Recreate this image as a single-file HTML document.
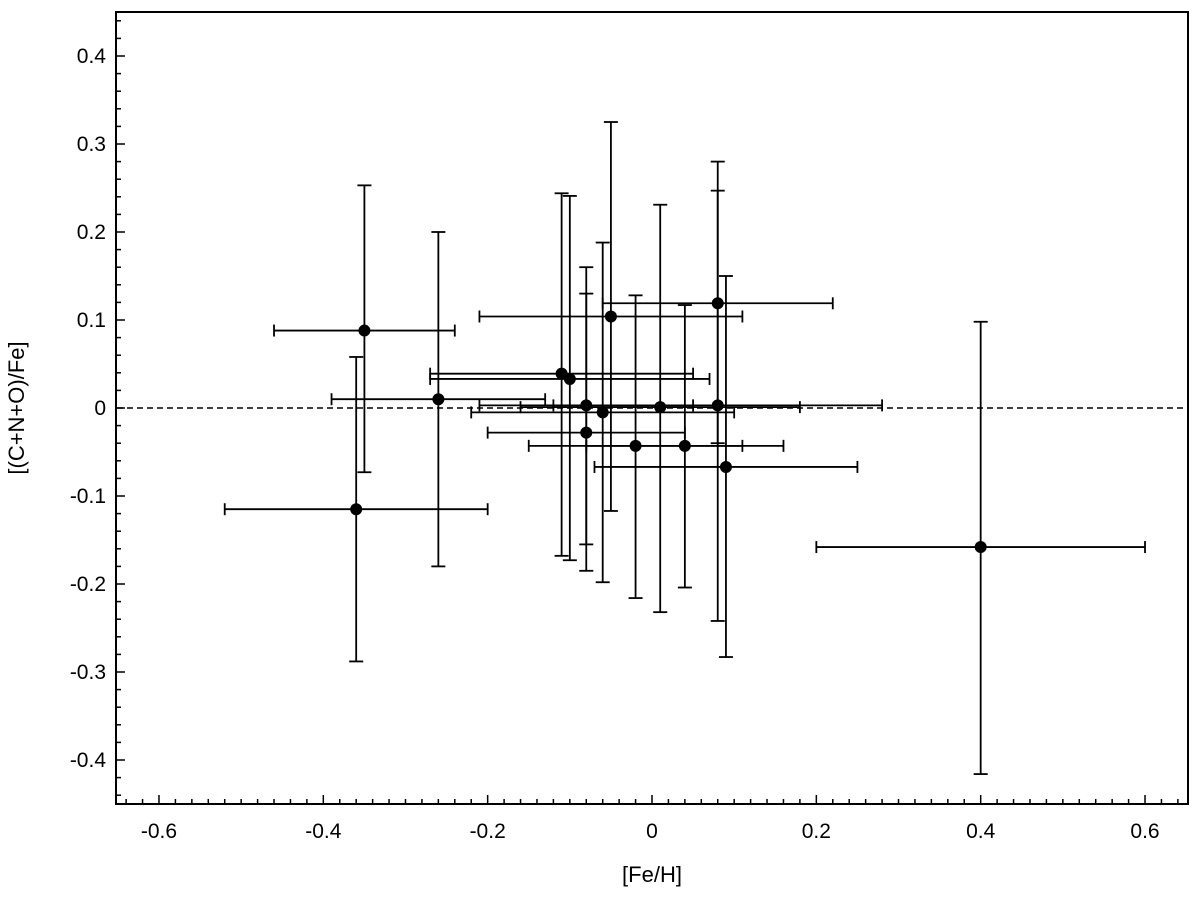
<!DOCTYPE html>
<html><head><meta charset="utf-8"><style>
body{margin:0;background:#fff;font-family:"Liberation Sans",sans-serif}
text{font-family:"Liberation Sans",sans-serif}
</style></head><body>
<svg id="chart" width="1200" height="895" xmlns="http://www.w3.org/2000/svg">
<rect x="116" y="12" width="1072" height="792" fill="none" stroke="#000" stroke-width="2"/>
<g id="ticks"></g><g id="marks"></g>
<text x="652" y="882" font-size="22" text-anchor="middle">[Fe/H]</text>
<text transform="translate(24,408) rotate(-90)" font-size="22" text-anchor="middle">[(C+N+O)/Fe]</text>
</svg>
<script>
const feH=[-0.35,-0.36,-0.26,-0.11,-0.10,-0.08,-0.08,-0.06,-0.05,-0.02,0.01,0.04,0.08,0.08,0.09,0.40];
const cno=[0.088,-0.115,0.010,0.039,0.033,0.003,-0.028,-0.005,0.104,-0.043,0.001,-0.043,0.119,0.003,-0.067,-0.158];
const xLo=[-0.46,-0.52,-0.39,-0.27,-0.27,-0.21,-0.20,-0.22,-0.21,-0.15,-0.16,-0.08,-0.06,-0.12,-0.07,0.20];
const xHi=[-0.24,-0.20,-0.13,0.05,0.07,0.05,0.04,0.10,0.11,0.11,0.18,0.16,0.22,0.28,0.25,0.60];
const yHi=[0.253,0.058,0.200,0.244,0.241,0.160,0.130,0.188,0.325,0.128,0.231,0.117,0.280,0.247,0.150,0.098];
const yLo=[-0.073,-0.288,-0.180,-0.168,-0.173,-0.155,-0.185,-0.198,-0.117,-0.216,-0.232,-0.204,-0.040,-0.242,-0.283,-0.416];
const xTicks=["-0.6","-0.4","-0.2","0","0.2","0.4","0.6"];
const yTicks=["-0.4","-0.3","-0.2","-0.1","0","0.1","0.2","0.3","0.4"];
const X=v=>652+v*821.7, Y=v=>408-v*880;
const NS="http://www.w3.org/2000/svg";
function mk(p,t,a){const e=document.createElementNS(NS,t);for(const k in a)e.setAttribute(k,a[k]);p.appendChild(e);return e;}
const tk=document.getElementById('ticks'), mg=document.getElementById('marks');
for(let i=-32;i<=32;i++){const v=i*0.02;const x=X(v);if(x<117||x>1187)continue;const maj=i%10==0;
 const l=mk(tk,'line',{x1:x,x2:x,y1:804,y2:804-(maj?9:5),stroke:'#000','stroke-width':1.5});
 
 }
for(let i=-22;i<=22;i++){const v=i*0.02;const y=Y(v);if(y<13||y>803)continue;const maj=i%5==0;
 const l=mk(tk,'line',{x1:116,x2:116+(maj?9:5),y1:y,y2:y,stroke:'#000','stroke-width':1.5});
 
 }
xTicks.forEach(s=>{const t=mk(tk,'text',{x:X(parseFloat(s)),y:838,'font-size':21,'text-anchor':'middle'});t.textContent=s;
 
 });
yTicks.forEach(s=>{const t=mk(tk,'text',{x:106,y:Y(parseFloat(s))+7,'font-size':21,'text-anchor':'end'});t.textContent=s;
 
 });
const ref=mk(mg,'line',{x1:117,x2:1187,y1:Y(0),y2:Y(0),stroke:'#000','stroke-width':1.5,'stroke-dasharray':'6,4'});


feH.forEach((fx,i)=>{const g=mk(mg,'g',{stroke:'#000','stroke-width':1.8});
 
 
 const cx=X(fx),cy=Y(cno[i]),x1=X(xLo[i]),x2=X(xHi[i]),y1=Y(yHi[i]),y2=Y(yLo[i]);
 mk(g,'line',{x1:x1,x2:x2,y1:cy,y2:cy});mk(g,'line',{x1:x1,x2:x1,y1:cy-6,y2:cy+6});mk(g,'line',{x1:x2,x2:x2,y1:cy-6,y2:cy+6});
 mk(g,'line',{x1:cx,x2:cx,y1:y1,y2:y2});mk(g,'line',{x1:cx-7,x2:cx+7,y1:y1,y2:y1});mk(g,'line',{x1:cx-7,x2:cx+7,y1:y2,y2:y2});
 mk(g,'circle',{cx:cx,cy:cy,r:6,fill:'#000',stroke:'none'});});
</script>
</body></html>
